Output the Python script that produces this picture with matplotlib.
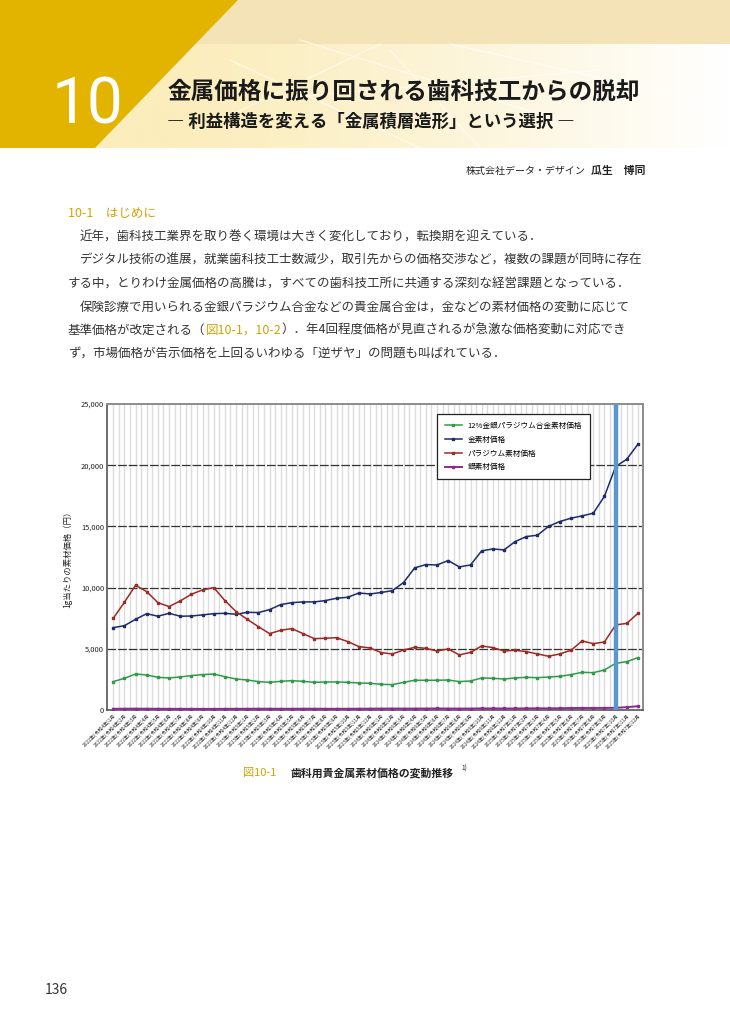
import matplotlib
matplotlib.use("Agg")
import matplotlib.pyplot as plt
from matplotlib.patches import Polygon
import numpy as np

plt.rcParams['font.family'] = ['Noto Sans CJK JP', 'DejaVu Sans']

# ---- data ----
years = [2022] * 12 + [2023] * 12 + [2024] * 12 + [2025] * 12
eras = [4] * 12 + [5] * 12 + [6] * 12 + [7] * 12
months = list(range(1, 13)) * 4
tick_labels = ['{}年(令和{}年){}月'.format(y, e, m) for y, e, m in zip(years, eras, months)]

alloy = [2320, 2590, 2940, 2860, 2670, 2620, 2700, 2810, 2890, 2940, 2720, 2530,
         2450, 2320, 2260, 2340, 2400, 2340, 2260, 2290, 2290, 2260, 2210, 2180,
         2100, 2070, 2260, 2430, 2430, 2430, 2450, 2320, 2370, 2620, 2590, 2530,
         2620, 2670, 2640, 2700, 2750, 2890, 3080, 3050, 3270, 3810, 3950, 4280]
gold = [6730, 6890, 7410, 7870, 7660, 7900, 7660, 7680, 7770, 7870, 7900, 7820,
        7980, 7960, 8200, 8610, 8770, 8830, 8830, 8940, 9130, 9210, 9560, 9480,
        9600, 9750, 10410, 11610, 11880, 11850, 12210, 11690, 11850, 13000, 13160, 13080,
        13760, 14170, 14280, 15010, 15400, 15670, 15860, 16080, 17470, 19890, 20490, 21720]
palladium = [7490, 8800, 10190, 9670, 8770, 8450, 8910, 9460, 9810, 10000, 8940, 8040,
             7410, 6810, 6240, 6510, 6650, 6240, 5830, 5860, 5910, 5590, 5180, 5070,
             4690, 4580, 4900, 5120, 5040, 4820, 4990, 4500, 4710, 5230, 5100, 4820,
             4880, 4770, 4580, 4390, 4580, 4880, 5640, 5420, 5560, 6950, 7080, 7900]
silver = [100, 105, 110, 105, 100, 95, 95, 95, 90, 90, 95, 100,
          100, 105, 105, 100, 100, 105, 105, 100, 100, 100, 105, 110,
          115, 120, 115, 115, 120, 125, 120, 115, 120, 130, 130, 125,
          125, 130, 140, 135, 140, 160, 165, 165, 170, 180, 230, 310]
series_labels = ['12%金銀パラジウム合金素材価格', '金素材価格', 'パラジウム素材価格', '銀素材価格']
marked_month = 45   # index of the highlighted month

W, H = 730, 1031
GOLD = '#e2b400'
GOLD_TXT = '#d2a300'
BODY_FS = 9.0


def px(x, y):
    return x / W, 1 - y / H


fig = plt.figure(figsize=(W / 100, H / 100), dpi=100)

# ---- header background ----
bg = fig.add_axes([0, 0, 1, 1], zorder=-5)
bg.set_xlim(0, W)
bg.set_ylim(H, 0)
bg.axis('off')
grad = np.linspace(0, 1, 300)
cream = np.array([251, 237, 188]) / 255.0
img = np.ones((1, 300, 3))
for c in range(3):
    img[0, :, c] = cream[c] + (1 - cream[c]) * np.clip((grad - 0.25) / 0.75, 0, 1) ** 1.2
bg.imshow(img, extent=(0, W, 148, 40), aspect='auto', zorder=0)
bg.add_patch(plt.Rectangle((0, 0), W, 44, color='#f3e3b6', zorder=1, lw=0))
for (x0, y0, x1, y1) in [(230, 60, 420, 148), (300, 40, 560, 120), (390, 50, 480, 148),
                         (260, 100, 600, 70), (450, 44, 700, 100), (200, 130, 380, 44)]:
    bg.plot([x0, x1], [y0, y1], color='white', lw=0.8, alpha=0.7, zorder=2)
bg.add_patch(Polygon([(0, 0), (238, 0), (95, 148), (0, 148)], closed=True,
                     color=GOLD, lw=0, zorder=3))

fig.text(*px(52, 106), '10', fontsize=46, color='white', family='Roboto',
         va='center', ha='left')
fig.text(*px(167, 92), '金属価格に振り回される歯科技工からの脱却', fontsize=17,
         fontweight='bold', color='#1a1a1a', va='center', ha='left')
fig.text(*px(167, 122), '― 利益構造を変える「金属積層造形」という選択 ―', fontsize=12.5,
         fontweight='bold', color='#1a1a1a', va='center', ha='left')

fig.text(*px(586, 171), '株式会社データ・デザイン', fontsize=7.2, color='#222',
         va='center', ha='right')
fig.text(*px(645, 171), '瓜生　博同', fontsize=7.8, fontweight='bold', color='#222',
         va='center', ha='right')

# ---- body text ----
fig.text(*px(68, 213), '10-1　はじめに', fontsize=9, color=GOLD_TXT, va='center', ha='left')
body = [
    (80, '近年，歯科技工業界を取り巻く環境は大きく変化しており，転換期を迎えている．'),
    (80, 'デジタル技術の進展，就業歯科技工士数減少，取引先からの価格交渉など，複数の課題が同時に存在'),
    (68, 'する中，とりわけ金属価格の高騰は，すべての歯科技工所に共通する深刻な経営課題となっている．'),
    (80, '保険診療で用いられる金銀パラジウム合金などの貴金属合金は，金などの素材価格の変動に応じて'),
]
line_y = [237, 260, 284, 307]
for (x0, s), y0 in zip(body, line_y):
    fig.text(*px(x0, y0), s, fontsize=BODY_FS, color='#333', va='center', ha='left')

t = fig.text(*px(68, 330), '基準価格が改定される（', fontsize=BODY_FS, color='#333',
             va='center', ha='left')
fig.canvas.draw()
r = fig.canvas.get_renderer()
x_cur = t.get_window_extent(r).x1
for s, col in [('図10-1，10-2', GOLD_TXT),
               ('）．年4回程度価格が見直されるが急激な価格変動に対応でき', '#333')]:
    tt = fig.text(x_cur / W, 1 - 330 / H, s, fontsize=BODY_FS, color=col, va='center', ha='left')
    x_cur = tt.get_window_extent(r).x1
fig.text(*px(68, 353), 'ず，市場価格が告示価格を上回るいわゆる「逆ザヤ」の問題も叫ばれている．',
         fontsize=BODY_FS, color='#333', va='center', ha='left')

# ---- chart ----
ax = fig.add_axes([107 / W, 1 - 710 / H, 536 / W, 306 / H])
x = np.arange(len(gold))
colors = ['#2f9b4a', '#1f2b6a', '#9b2b25', '#8a2c8d']
for vals, col, lab in zip([alloy, gold, palladium, silver], colors, series_labels):
    lw = 1.4 if vals is silver else 1.1
    ax.plot(x, vals, color=col, lw=lw, marker='s', markersize=2.0, label=lab, zorder=3)

ax.axvline(marked_month, color='#5b97cf', lw=3.2, zorder=4)

ax.set_xlim(-0.56, 47.45)
ax.set_ylim(0, 25000)
ax.set_yticks(np.arange(0, 25001, 5000))
ax.set_yticklabels(['{:,}'.format(v) for v in range(0, 25001, 5000)], fontsize=5.4, color='#222')
ax.set_xticks(x)
ax.set_xticklabels(tick_labels, rotation=45, ha='right', rotation_mode='anchor',
                   fontsize=3.5, color='#2a2a2a')
ax.tick_params(axis='both', length=0, pad=2)
ax.set_xticks(np.arange(0, 47.5, 0.5), minor=True)
ax.tick_params(axis='x', which='minor', length=0)
ax.grid(True, 'minor', 'x', color='#dcdcdc', lw=1.0, zorder=0)
ax.grid(True, 'major', 'x', color='#dcdcdc', lw=1.0, zorder=0)
for yv in range(5000, 25000, 5000):
    ax.axhline(yv, color='#333', lw=0.9, linestyle=(0, (7, 1.5)), zorder=1)
ax.set_axisbelow(True)
for sp in ['left', 'bottom']:
    ax.spines[sp].set_color('#555')
    ax.spines[sp].set_linewidth(1.2)
for sp in ['top', 'right']:
    ax.spines[sp].set_color('#8c8c8c')
    ax.spines[sp].set_linewidth(1.4)

ax.set_ylabel('1g当たりの素材価格（円）', fontsize=6, color='#222', labelpad=6)

leg = ax.legend(loc='upper left', bbox_to_anchor=(0.616, 0.966), fontsize=5.5,
                fancybox=False, edgecolor='#222', framealpha=1, handlelength=2.2,
                labelspacing=0.75, borderpad=1.0, handletextpad=0.8, borderaxespad=0)
leg.get_frame().set_linewidth(0.9)
leg.set_zorder(6)

# ---- caption / page number ----
fig.text(*px(243, 773), '図10-1', fontsize=8, color=GOLD_TXT, va='center', ha='left')
fig.text(*px(291, 773), '歯科用貴金属素材価格の変動推移', fontsize=7.8, fontweight='bold',
         color='#222', va='center', ha='left')
fig.text(*px(461, 769), '1)', fontsize=4.8, color='#222', va='center', ha='left')
fig.text(*px(45, 990), '136', fontsize=10, color='#333', va='center', ha='left')

fig.savefig('out.png', dpi=100)
